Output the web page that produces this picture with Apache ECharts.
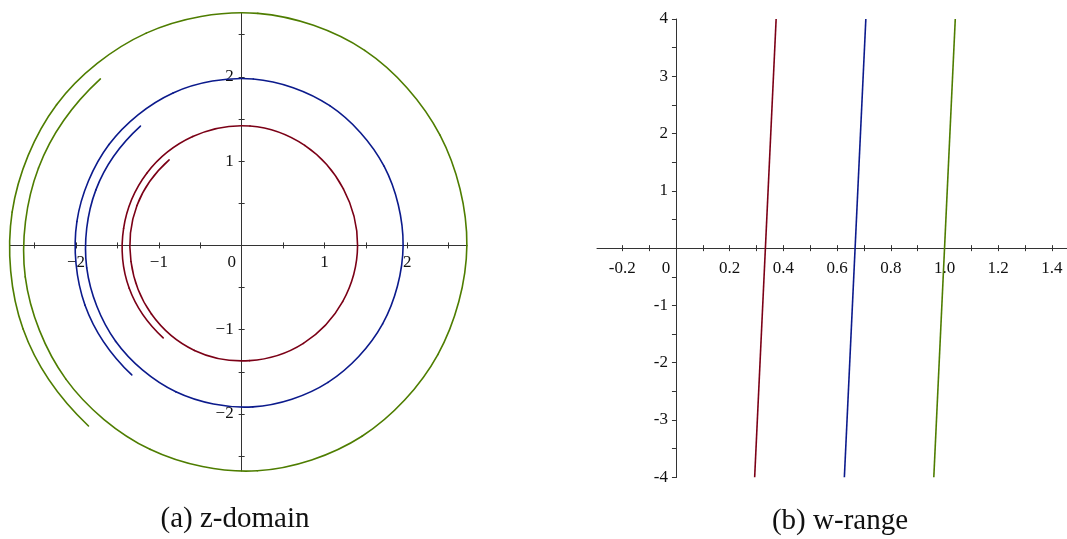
<!DOCTYPE html>
<html>
<head>
<meta charset="utf-8">
<title>z-domain and w-range</title>
<script src="https://cdn.jsdelivr.net/npm/echarts@6/dist/echarts.min.js"></script>
<style>
  html, body { margin: 0; padding: 0; background: #fff; }
  #chart { width: 1067px; height: 539px; }
</style>
</head>
<body>
<div id="chart"></div>
<script>
// Arguments (radians) at which the three z-domain spirals are sampled
const argSamples = [-4, -3.5, -3, -2.5, -2, -1.5, -1, -0.5, 0, 0.5, 1, 1.5, 2, 2.5, 3, 3.5, 4];
// |z| of each spiral at those arguments
const redRadius   = [1.34, 1.35, 1.35, 1.36, 1.37, 1.37, 1.38, 1.39, 1.40, 1.40, 1.41, 1.42, 1.42, 1.43, 1.44, 1.45, 1.45];
const blueRadius  = [1.87, 1.88, 1.89, 1.90, 1.91, 1.92, 1.93, 1.94, 1.95, 1.96, 1.97, 1.98, 1.99, 2.00, 2.01, 2.02, 2.03];
const greenRadius = [2.61, 2.62, 2.64, 2.65, 2.66, 2.68, 2.69, 2.70, 2.72, 2.73, 2.75, 2.76, 2.77, 2.79, 2.80, 2.82, 2.83];

// w-range segments: imaginary part end points and real part at each end
const wImag   = [-4, 4];
const wRedRe   = [0.293, 0.373];
const wBlueRe  = [0.627, 0.707];
const wGreenRe = [0.960, 1.040];

// Axis extents, tick positions and labelled values
const zExtentX = [-2.805, 2.718];
const zExtentY = [-2.676, 2.761];
const zTicks = [-2.5, -2, -1.5, -1, -0.5, 0.5, 1, 1.5, 2, 2.5];
const zLabelsX = [-2, -1, 0, 1, 2];
const zLabelsY = [-2, -1, 1, 2];
const wExtentX = [-0.294, 1.456];
const wExtentY = [-4, 4];
const wTicksX = [-0.2, -0.1, 0.1, 0.2, 0.3, 0.4, 0.5, 0.6, 0.7, 0.8, 0.9, 1.0, 1.1, 1.2, 1.3, 1.4];
const wLabelsX = [-0.2, 0, 0.2, 0.4, 0.6, 0.8, 1.0, 1.2, 1.4];
const wTicksY = [-4, -3.5, -3, -2.5, -2, -1.5, -1, -0.5, 0.5, 1, 1.5, 2, 2.5, 3, 3.5, 4];
const wLabelsY = [-4, -3, -2, -1, 1, 2, 3, 4];

const colors = { red: '#7b0016', blue: '#0b1a8c', green: '#4e7d00' };
const axisColor = '#333';

// Plot rectangles (pixels) of the two panels
const zRect = { left: 9.4, top: 12.7, width: 457.3, height: 458.3 };
const wRect = { left: 597, top: 19, width: 470, height: 458.3 };

function spiral(radius) {
  return argSamples.map((t, i) => [radius[i] * Math.cos(t), radius[i] * Math.sin(t)]);
}
function segment(re) {
  return wImag.map((v, i) => [re[i], v]);
}

const labelFont = { fontFamily: '"Liberation Serif", "Times New Roman", serif', fontSize: 17, color: '#111' };

// Pixel distance from each grid edge to the zero line of the other axis
function zeroOffsets(rect, ex, ey) {
  const x0 = rect.left + (0 - ex[0]) / (ex[1] - ex[0]) * rect.width;
  const y0 = rect.top + (ey[1] - 0) / (ey[1] - ey[0]) * rect.height;
  return {
    fromLeft: x0 - rect.left,
    fromRight: rect.left + rect.width - x0,
    fromTop: y0 - rect.top,
    fromBottom: rect.top + rect.height - y0
  };
}

// Builds the two axes of one direction: a labelled one and a bare one whose ticks
// point the other way, both moved onto the zero line so the ticks cross it.
function axisPair(dim, gridIndex, extent, tickValues, tickLen, labelValues, formatter, margin, rich, off) {
  const main = {
    type: 'value', gridIndex: gridIndex, min: extent[0], max: extent[1],
    position: dim === 'x' ? 'bottom' : 'left',
    offset: dim === 'x' ? -off.fromBottom : -off.fromLeft,
    splitLine: { show: false },
    axisLine: { show: true, onZero: false, lineStyle: { color: axisColor, width: 1 } },
    axisTick: { show: true, inside: false, length: tickLen[0], customValues: tickValues, lineStyle: { color: axisColor, width: 1 } },
    axisLabel: Object.assign({ show: true, customValues: labelValues, formatter: formatter, margin: margin, rich: rich || {} }, labelFont)
  };
  const mirror = {
    type: 'value', gridIndex: gridIndex, min: extent[0], max: extent[1],
    position: dim === 'x' ? 'top' : 'right',
    offset: dim === 'x' ? -off.fromTop : -off.fromRight,
    splitLine: { show: false },
    axisLine: { show: false, onZero: false },
    axisTick: { show: tickLen[1] > 0, inside: false, length: tickLen[1], customValues: tickValues, lineStyle: { color: axisColor, width: 1 } },
    axisLabel: { show: false }
  };
  return [main, mirror];
}

const zFmt = v => v === 0 ? '{zero|0}' : (v < 0 ? '\u2212' + Math.abs(v) : String(v));
const wFmtX = v => v === 0 ? '{zero|0}' : (v < 0 ? '-' + Math.abs(v).toFixed(1) : v.toFixed(1));
const wFmtY = v => (v < 0 ? '-' + Math.abs(v) : String(v));
const zeroRich = { zero: Object.assign({ padding: [0, 20, 0, 0] }, labelFont) };
const zeroRichW = { zero: Object.assign({ padding: [0, 20, 6, 0] }, labelFont) };

const zOff = zeroOffsets(zRect, zExtentX, zExtentY);
const wOff = zeroOffsets(wRect, wExtentX, wExtentY);

const zX = axisPair('x', 0, zExtentX, zTicks, [3, 3], zLabelsX, zFmt, 9, zeroRich, zOff);
const zY = axisPair('y', 0, zExtentY, zTicks, [3, 3], zLabelsY, zFmt, 8, null, zOff);
const wX = axisPair('x', 1, wExtentX, wTicksX, [3, 3], wLabelsX, wFmtX, 12, zeroRichW, wOff);
const wY = axisPair('y', 1, wExtentY, wTicksY, [4, 1], wLabelsY, wFmtY, 8, null, wOff);

// Smooth spiral through its samples (Catmull-Rom segments in screen space).
// Beyond the two ends a phantom point is extended quadratically so the end
// segments keep their curvature.
function spiralSeries(name, radius, color) {
  const pts = spiral(radius);
  const n = pts.length;
  return {
    name: name,
    type: 'custom',
    coordinateSystem: 'cartesian2d',
    xAxisIndex: 0,
    yAxisIndex: 0,
    data: pts,
    encode: { x: 0, y: 1 },
    silent: true,
    animation: false,
    renderItem: function (params, api) {
      const i = params.dataIndex;
      if (i >= n - 1) return null;
      const at = k => {
        if (k < 0) {
          const a = api.coord(pts[0]), b = api.coord(pts[1]), c = api.coord(pts[2]);
          return [3 * a[0] - 3 * b[0] + c[0], 3 * a[1] - 3 * b[1] + c[1]];
        }
        if (k > n - 1) {
          const a = api.coord(pts[n - 1]), b = api.coord(pts[n - 2]), c = api.coord(pts[n - 3]);
          return [3 * a[0] - 3 * b[0] + c[0], 3 * a[1] - 3 * b[1] + c[1]];
        }
        return api.coord(pts[k]);
      };
      const p0 = at(i - 1), p1 = at(i), p2 = at(i + 1), p3 = at(i + 2);
      return {
        type: 'bezierCurve',
        shape: {
          x1: p1[0], y1: p1[1], x2: p2[0], y2: p2[1],
          cpx1: p1[0] + (p2[0] - p0[0]) / 6, cpy1: p1[1] + (p2[1] - p0[1]) / 6,
          cpx2: p2[0] - (p3[0] - p1[0]) / 6, cpy2: p2[1] - (p3[1] - p1[1]) / 6
        },
        style: { stroke: color, lineWidth: 1.6, fill: 'none', lineCap: 'round' }
      };
    }
  };
}

function lineSeries(name, data, color) {
  return {
    name: name, type: 'line', xAxisIndex: 2, yAxisIndex: 2, data: data,
    showSymbol: false, symbol: 'none', silent: true, animation: false,
    lineStyle: { color: color, width: 1.6 }
  };
}

const chart = echarts.init(document.getElementById('chart'), null, { renderer: 'canvas' });

chart.setOption({
  animation: false,
  backgroundColor: '#ffffff',
  grid: [
    Object.assign({ containLabel: false, outerBoundsMode: 'none' }, zRect),
    Object.assign({ containLabel: false, outerBoundsMode: 'none' }, wRect)
  ],
  xAxis: [zX[0], zX[1], wX[0], wX[1]],
  yAxis: [zY[0], zY[1], wY[0], wY[1]],
  series: [
    spiralSeries('z red', redRadius, colors.red),
    spiralSeries('z blue', blueRadius, colors.blue),
    spiralSeries('z green', greenRadius, colors.green),
    lineSeries('w red', segment(wRedRe), colors.red),
    lineSeries('w blue', segment(wBlueRe), colors.blue),
    lineSeries('w green', segment(wGreenRe), colors.green)
  ],
  graphic: [
    { type: 'text', x: 235, y: 519, silent: true,
      style: { text: '(a) z-domain', font: '29px "Liberation Serif", serif', fill: '#111', align: 'center', verticalAlign: 'middle', textAlign: 'center', textVerticalAlign: 'middle' } },
    { type: 'text', x: 840, y: 521, silent: true,
      style: { text: '(b) w-range', font: '29px "Liberation Serif", serif', fill: '#111', align: 'center', verticalAlign: 'middle', textAlign: 'center', textVerticalAlign: 'middle' } }
  ]
});
</script>
</body>
</html>
